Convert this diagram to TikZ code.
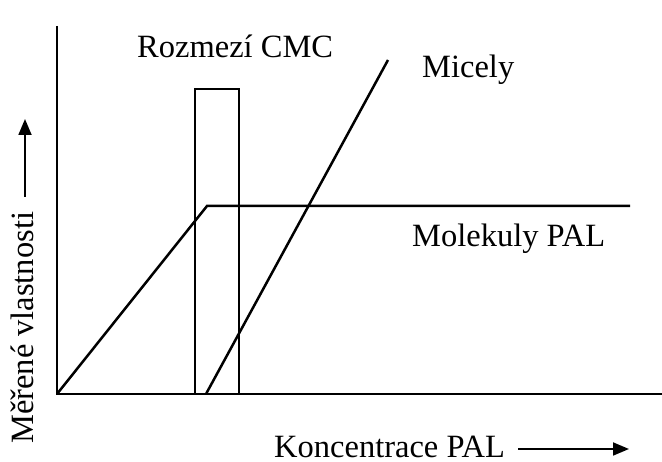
\documentclass[tikz,border=0pt]{standalone}
\usepackage{fontspec}
\setmainfont{Liberation Serif}
\usetikzlibrary{arrows.meta}
\begin{document}
\begin{tikzpicture}[x=1pt,y=-1pt,
  curve/.style={line width=2.5pt,line join=miter},
  lbl/.style={inner sep=0pt,font=\fontsize{32.5}{38}\selectfont},
  axarrow/.style={line width=1.8pt,-{Triangle[length=16pt,width=13pt]}}]
\useasboundingbox (0,0) rectangle (662,462);
% axes
\coordinate (top) at (57,26);
\coordinate (origin) at (57,394);
\coordinate (xend) at (662,394);
\draw[curve] (top) -- (origin) -- (xend);
% CMC range rectangle
\coordinate (r1) at (195,394);
\coordinate (r2) at (239,89);
\draw[curve] (r1) rectangle (r2);
% molecules line
\coordinate (kink) at (207,206);
\coordinate (mend) at (630,206);
\draw[curve] (origin) -- (kink) -- (mend);
% micelles line
\coordinate (m0) at (206,394);
\coordinate (m1) at (388,60);
\draw[curve] (m0) -- (m1);
% labels
\node[lbl,anchor=base west] (cmc) at (137,58) {Rozmezí CMC};
\node[lbl,anchor=base west] (mic) at (422,78) {Micely};
\node[lbl,anchor=base west] (mol) at (412,247) {Molekuly PAL};
\node[lbl,anchor=base west] (xlab) at (274,457) {Koncentrace PAL};
\node[lbl,anchor=base west,rotate=90] (ylab) at (33,444) {Měřené vlastnosti};
% axis arrows
\coordinate (xa0) at (518,449);
\coordinate (xa1) at (629,449);
\draw[axarrow] (xa0) -- (xa1);
\coordinate (ya0) at (25,197);
\coordinate (ya1) at (25,119);
\draw[axarrow] (ya0) -- (ya1);
\end{tikzpicture}
\end{document}
